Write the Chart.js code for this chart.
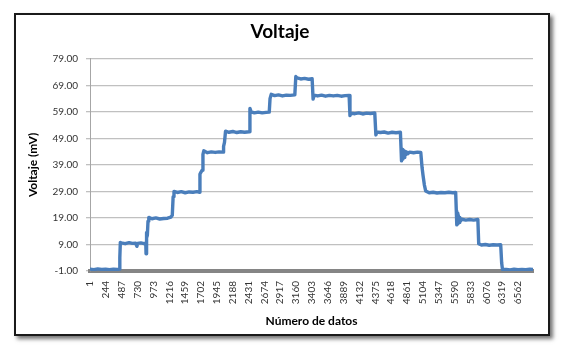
<!DOCTYPE html>
<html><head><meta charset="utf-8">
<script src="https://cdn.jsdelivr.net/npm/chart.js@4"></script>
<style>
html,body{margin:0;padding:0;background:#fff;}
#frame{position:absolute;left:14px;top:13px;width:536px;height:323px;box-sizing:border-box;border:2px solid #1a1a1a;box-shadow:3px 3px 4px rgba(0,0,0,0.55);background:#fff;}
#c{position:absolute;left:0;top:0;}
</style></head><body>
<div id="frame"></div>
<canvas id="c" width="572" height="360"></canvas>
<script>
const sampleNumber = [
  1,60,120,180,240,300,360,420,452,458,466,
  480,540,600,650,700,720,730,780,830,856,
  860,864,872,880,890,902,
  950,1010,1070,1130,1190,1240,1262,1275,1288,
  1340,1400,1460,1520,1580,1640,1680,
  1686,1700,1720,1732,1745,
  1800,1860,1920,1980,2040,2048,2062,2078,
  2130,2190,2250,2310,2370,2440,2452,2470,
  2520,2580,2640,2700,2748,2760,2778,
  2830,2890,2950,3010,3070,3140,3155,3175,
  3230,3290,3350,3405,3420,3436,
  3490,3550,3610,3670,3730,3790,3850,3910,3972,3985,4000,
  4060,4120,4180,4240,4300,4365,4382,4398,
  4450,4510,4570,4630,4690,4758,
  4775,4785,4795,4805,4815,4825,4835,4850,4870,4900,
  4960,5020,5070,5090,5105,5125,5145,
  5200,5260,5320,5380,5440,5500,5560,5605,
  5615,5622,5630,5638,5646,5656,5668,5680,5700,
  5760,5820,5880,5945,5958,
  6000,6060,6120,6180,6240,6295,6310,6322,
  6380,6440,6500,6560,6620,6680,6740,6790
];
const voltage = [
  -0.3,-0.5,-0.2,-0.4,-0.3,-0.5,-0.3,-0.4,-0.3,4.0,9.8,
  9.6,9.3,9.7,9.4,9.5,8.3,9.4,9.6,9.3,9.5,
  5.5,13.5,11.5,12.5,17.8,19.2,
  18.7,19.0,18.6,18.8,18.9,19.3,20.0,27.0,29.0,
  28.6,28.9,28.5,28.8,28.7,28.9,28.7,
  35.5,36.2,37.0,43.0,44.3,
  43.6,43.9,43.7,43.9,43.8,46.0,47.5,51.7,
  51.3,51.6,51.2,51.5,51.3,51.5,60.3,59.0,
  58.6,58.9,58.6,58.8,58.9,64.0,65.6,
  65.1,65.4,65.0,65.3,65.2,65.4,72.3,71.8,
  71.4,71.6,71.3,71.5,63.8,65.3,
  65.0,65.3,64.9,65.2,65.0,65.2,64.9,65.1,65.2,57.6,58.5,
  58.3,58.6,58.2,58.5,58.4,58.6,50.3,51.4,
  51.2,51.4,51.0,51.3,51.1,51.3,
  40.5,44.8,41.2,44.5,41.8,44.2,42.6,43.9,43.2,43.8,
  43.6,43.8,43.7,38.0,35.0,31.5,29.2,
  28.5,28.7,28.4,28.6,28.5,28.7,28.5,28.6,
  21.5,16.4,20.8,16.8,20.0,17.3,19.2,17.9,18.5,
  18.2,18.4,18.2,18.4,9.3,
  8.8,9.0,8.7,8.9,8.8,8.9,2.0,-0.4,
  -0.4,-0.6,-0.3,-0.5,-0.4,-0.5,-0.3,-0.4
];
const xTickLabels = [1,244,487,730,973,1216,1459,1702,1945,2188,2431,2674,2917,3160,3403,3646,3889,4132,4375,4618,4861,5104,5347,5590,5833,6076,6319,6562];
const yTickLabels = [-1,9,19,29,39,49,59,69,79];

const F = 'Lato, "Liberation Sans", sans-serif';
new Chart(document.getElementById('c'), {
  type: 'line',
  data: { datasets: [{
    data: sampleNumber.map((n, i) => ({ x: n, y: voltage[i] })),
    borderColor: '#4a7ebb', borderWidth: 3.4, borderJoinStyle: 'round', borderCapStyle: 'round',
    pointRadius: 0, tension: 0, fill: false
  }]},
  options: {
    responsive: false, animation: false, devicePixelRatio: 1,
    layout: { padding: { left: 27, right: 39, top: 20, bottom: 0 } },
    plugins: {
      legend: { display: false }, tooltip: { enabled: false },
      title: { display: true, text: 'Voltaje', color: '#000',
        font: { family: F, size: 19, weight: 'bold' }, padding: { top: 0, bottom: 16 } }
    },
    scales: {
      x: {
        type: 'linear', min: 1, max: 6790,
        afterBuildTicks: s => { s.ticks = xTickLabels.map(v => ({ value: v })); },
        afterFit: s => { s.height = 89; },
        grid: { display: false, drawTicks: false },
        border: { display: true, color: '#858585', width: 4 },
        ticks: { autoSkip: false, minRotation: 90, maxRotation: 90, padding: 10,
          font: { family: F, size: 10 }, color: '#333', callback: v => String(v) },
        title: { display: true, text: 'Número de datos', color: '#000',
          font: { family: F, size: 12, weight: 'bold' }, padding: { top: 0, bottom: 32 } }
      },
      y: {
        min: yTickLabels[0], max: yTickLabels[yTickLabels.length - 1],
        afterBuildTicks: s => { s.ticks = yTickLabels.map(v => ({ value: v })); },
        afterFit: s => { s.width = 63; },
        grid: { color: '#c0c0c0', lineWidth: 1.3, tickLength: 4 },
        border: { color: '#a6a6a6', width: 1 },
        ticks: { padding: 8, font: { family: F, size: 10 }, color: '#333', callback: v => v.toFixed(2) },
        title: { display: true, text: 'Voltaje (mV)', color: '#000',
          font: { family: F, size: 12, weight: 'bold', lineHeight: 1 }, padding: { top: 0, bottom: 0 } }
      }
    }
  }
});
</script>
</body></html>
